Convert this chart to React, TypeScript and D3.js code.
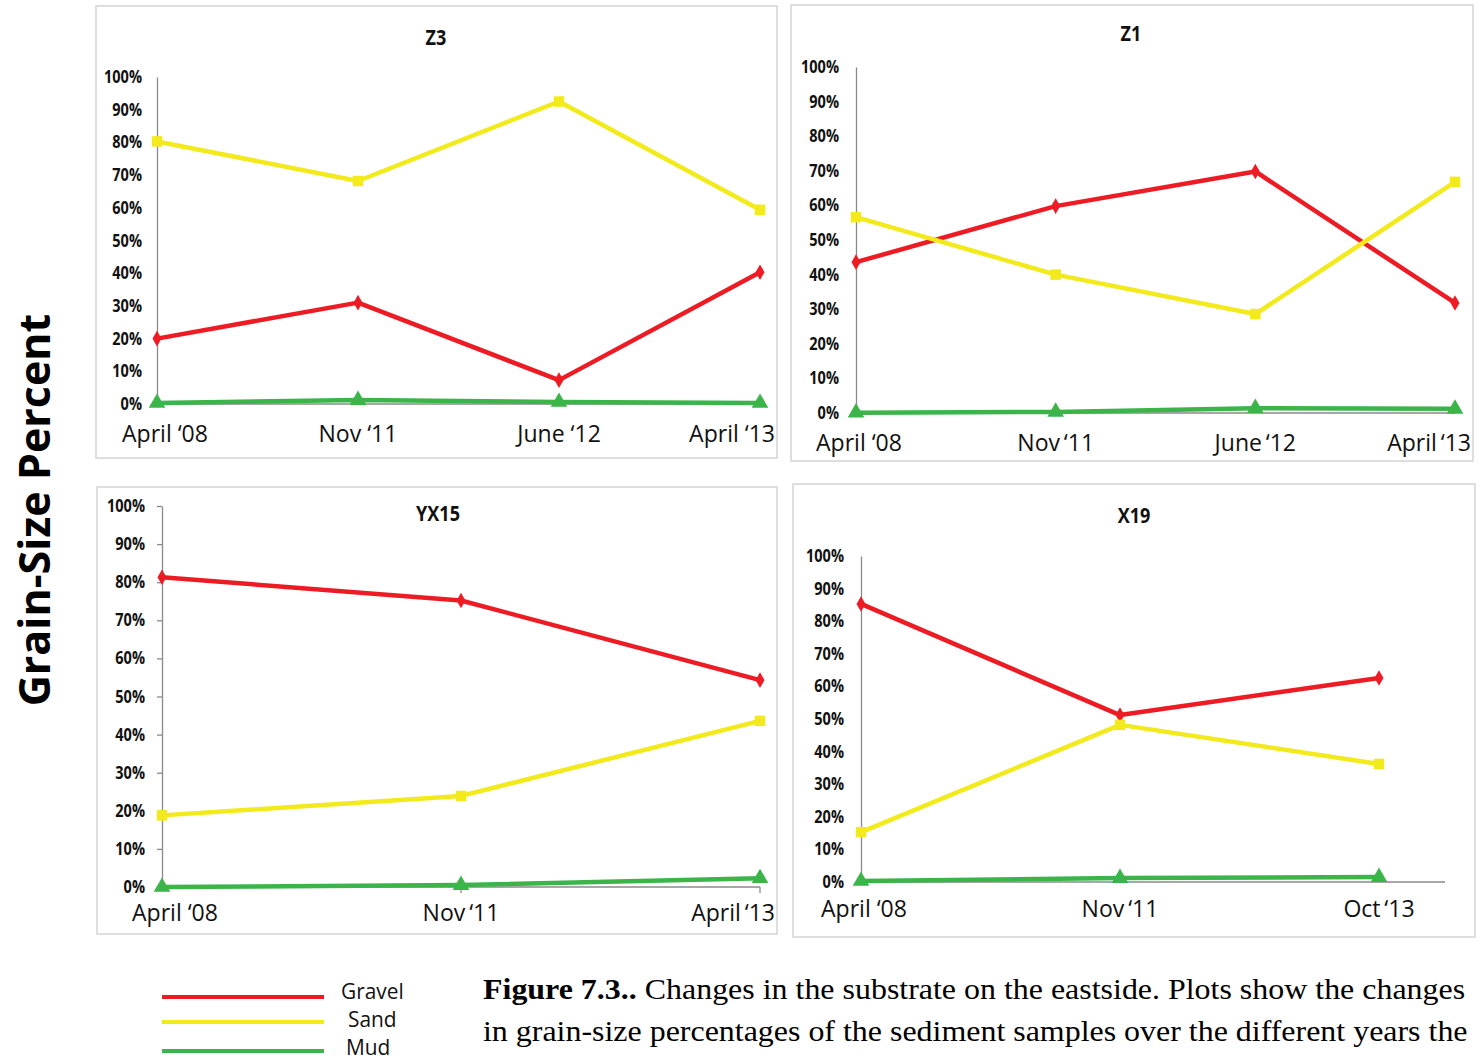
import React, { useEffect, useRef } from "react";
import * as d3 from "d3";

// ---------- data ----------
const seriesNames = ["Gravel", "Sand", "Mud"];
const seriesColors = ["#ED1C24", "#F2EA1A", "#3BB44A"];
const percentTicks = [0, 10, 20, 30, 40, 50, 60, 70, 80, 90, 100];

const z3Categories = ["April \u201808", "Nov \u201811", "June \u201812", "April \u201813"];
const z3Gravel = [20.0, 31.0, 7.3, 40.3];
const z3Sand = [80.3, 68.2, 92.5, 59.4];
const z3Mud = [0.3, 1.2, 0.6, 0.3];

const z1Categories = ["April \u201808", "Nov\u2009\u201811", "June\u2009\u201812", "April\u2009\u201813"];
const z1Gravel = [43.6, 59.8, 69.8, 31.8];
const z1Sand = [56.6, 40.0, 28.6, 66.8];
const z1Mud = [0.1, 0.3, 1.4, 1.2];

const yx15Categories = ["April \u201808", "Nov\u2009\u201811", "April\u2009\u201813"];
const yx15Gravel = [81.3, 75.2, 54.3];
const yx15Sand = [18.8, 23.9, 43.6];
const yx15Mud = [0.0, 0.5, 2.3];

const x19Categories = ["April \u201808", "Nov\u2009\u201811", "Oct\u2009\u201813"];
const x19Gravel = [85.3, 51.2, 62.6];
const x19Sand = [15.3, 48.2, 36.2];
const x19Mud = [0.3, 1.2, 1.5];

const yAxisTitle = "Grain-Size Percent";
const captionBold = "Figure 7.3..";
const captionLine1 = " Changes in the substrate on the eastside. Plots show the changes";
const captionLine2 = "in grain-size percentages of the sediment samples over the different years the";

// ---------- layout ----------
type Panel = {
  title: string;
  categories: string[];
  series: number[][];
  box: [number, number, number, number];
  x0: number;
  x1: number;
  top: number;
  bottom: number;
  axisEnd: number;
  titleX: number;
  titleY: number;
  tickX: number;
  labelY: number;
  labelMinLeft: number;
  tickMarks: boolean;
};

const panels: Panel[] = [
  {
    title: "Z3", categories: z3Categories, series: [z3Gravel, z3Sand, z3Mud],
    box: [96, 6, 681, 452], x0: 157, x1: 760, top: 77, bottom: 404, axisEnd: 760,
    titleX: 436, titleY: 45, tickX: 142, labelY: 442, labelMinLeft: 122, tickMarks: false,
  },
  {
    title: "Z1", categories: z1Categories, series: [z1Gravel, z1Sand, z1Mud],
    box: [791, 5, 682, 456], x0: 856, x1: 1455, top: 67, bottom: 413, axisEnd: 1455,
    titleX: 1131, titleY: 41, tickX: 839, labelY: 451, labelMinLeft: 816, tickMarks: false,
  },
  {
    title: "YX15", categories: yx15Categories, series: [yx15Gravel, yx15Sand, yx15Mud],
    box: [97, 487, 680, 447], x0: 162, x1: 760, top: 506, bottom: 887, axisEnd: 760,
    titleX: 438, titleY: 521, tickX: 145, labelY: 921, labelMinLeft: 132, tickMarks: true,
  },
  {
    title: "X19", categories: x19Categories, series: [x19Gravel, x19Sand, x19Mud],
    box: [793, 484, 682, 453], x0: 861, x1: 1379, top: 556, bottom: 882, axisEnd: 1445,
    titleX: 1134, titleY: 523, tickX: 844, labelY: 917, labelMinLeft: 821, tickMarks: false,
  },
];

const SANS = "'Open Sans', 'Liberation Sans', Arial, sans-serif";
const SERIF = "'Liberation Serif', 'Times New Roman', serif";

export default function App() {
  const ref = useRef<SVGSVGElement | null>(null);

  useEffect(() => {
    const svg = d3.select(ref.current);
    svg.selectAll("*").remove();
    svg.append("rect").attr("width", 1480).attr("height", 1060).attr("fill", "#fff");

    panels.forEach((p) => {
      const g = svg.append("g");
      const [bx, by, bw, bh] = p.box;
      g.append("rect")
        .attr("x", bx).attr("y", by).attr("width", bw).attr("height", bh)
        .attr("fill", "#fff").attr("stroke", "#d4d4d4").attr("stroke-width", 1.5);

      const x = d3.scalePoint<string>().domain(p.categories).range([p.x0, p.x1]);
      const y = d3.scaleLinear().domain([0, 100]).range([p.bottom, p.top]);

      // title
      g.append("text")
        .attr("transform", `translate(${p.titleX},${p.titleY}) scale(0.82,1)`)
        .attr("text-anchor", "middle")
        .attr("font-family", SANS).attr("font-weight", 700).attr("font-size", 22)
        .attr("fill", "#111").text(p.title);

      // y axis
      const yAxis = d3.axisLeft(y).tickValues(p.tickMarks ? percentTicks : [])
        .tickSize(p.tickMarks ? 5 : 0).tickSizeOuter(0).tickFormat(() => "");
      const ya = g.append("g").attr("transform", `translate(${p.x0},0)`).call(yAxis);
      ya.selectAll("path, line").attr("stroke", "#8a8a8a").attr("stroke-width", 1.3);

      // x axis line
      const xa = g.append("g");
      xa.append("line")
        .attr("x1", p.x0).attr("x2", p.axisEnd).attr("y1", y(0)).attr("y2", y(0))
        .attr("stroke", "#8a8a8a").attr("stroke-width", 1.3);
      if (p.tickMarks) {
        xa.selectAll("line.tk").data(p.categories.slice(1)).enter().append("line")
          .attr("class", "tk")
          .attr("x1", (d) => x(d)!).attr("x2", (d) => x(d)!)
          .attr("y1", y(0)).attr("y2", y(0) + 6)
          .attr("stroke", "#8a8a8a").attr("stroke-width", 1.3);
      }

      // tick labels
      g.selectAll("text.tl").data(percentTicks).enter().append("text")
        .attr("class", "tl")
        .attr("transform", (d) => `translate(${p.tickX},${y(d) + 6}) scale(0.83,1)`)
        .attr("text-anchor", "end")
        .attr("font-family", SANS).attr("font-weight", 700).attr("font-size", 17.5)
        .attr("fill", "#111").text((d) => `${d}%`);

      // category labels
      const labels = g.selectAll("text.cl").data(p.categories).enter().append("text")
        .attr("class", "cl")
        .attr("text-anchor", "middle")
        .attr("font-family", SANS).attr("font-size", 24)
        .attr("fill", "#111").text((d) => d);
      const sx = 0.96;
      labels.each(function (d) {
        const el = this as SVGTextElement;
        const w = el.getComputedTextLength() * sx;
        let cx = x(d)!;
        if (cx + w / 2 > bx + bw - 2) cx = bx + bw - 2 - w / 2;
        if (cx - w / 2 < p.labelMinLeft) cx = p.labelMinLeft + w / 2;
        d3.select(el).attr("transform", `translate(${cx},${p.labelY}) scale(${sx},1)`);
      });

      // series lines & markers
      const line = d3.line<number>()
        .x((_, i) => x(p.categories[i])!)
        .y((d) => y(d));
      const symbols = [d3.symbolDiamond, d3.symbolSquare, d3.symbolTriangle];
      const sizes = [70, 110, 120];
      p.series.forEach((vals, si) => {
        g.append("path").datum(vals)
          .attr("d", line)
          .attr("fill", "none")
          .attr("stroke", seriesColors[si])
          .attr("stroke-width", 4.5)
          .attr("stroke-linejoin", "round");
        g.selectAll(`path.m${si}`).data(vals).enter().append("path")
          .attr("class", `m${si}`)
          .attr("transform", (d, i) => `translate(${x(p.categories[i])},${y(d)})`)
          .attr("d", d3.symbol().type(symbols[si]).size(sizes[si])())
          .attr("fill", seriesColors[si]);
      });
    });

    // y axis title
    svg.append("text")
      .attr("transform", "translate(50,510) rotate(-90)")
      .attr("text-anchor", "middle")
      .attr("font-family", SANS).attr("font-weight", 700).attr("font-size", 43)
      .attr("fill", "#000").text(yAxisTitle);

    // legend
    const legendY = [997, 1022, 1051];
    const legendTextY = [999, 1027, 1055];
    const legendTextX = [341, 348, 346];
    seriesNames.forEach((name, i) => {
      svg.append("line")
        .attr("x1", 162).attr("x2", 324).attr("y1", legendY[i]).attr("y2", legendY[i])
        .attr("stroke", seriesColors[i]).attr("stroke-width", 4);
      svg.append("text")
        .attr("transform", `translate(${legendTextX[i]},${legendTextY[i]}) scale(0.95,1)`)
        .attr("font-family", SANS).attr("font-size", 22)
        .attr("fill", "#111").text(name);
    });

    // caption
    const c1 = svg.append("text")
      .attr("transform", "translate(483,999) scale(1.083,1)")
      .attr("font-family", SERIF).attr("font-size", 29.5).attr("fill", "#000");
    c1.append("tspan").attr("font-weight", 700).text(captionBold);
    c1.append("tspan").text(captionLine1);
    svg.append("text")
      .attr("transform", "translate(483,1041) scale(1.083,1)")
      .attr("font-family", SERIF).attr("font-size", 29.5).attr("fill", "#000")
      .text(captionLine2);
  }, []);

  return (
    <svg
      ref={ref}
      width={1480}
      height={1060}
      style={{ position: "absolute", left: 0, top: 0, display: "block" }}
    />
  );
}
